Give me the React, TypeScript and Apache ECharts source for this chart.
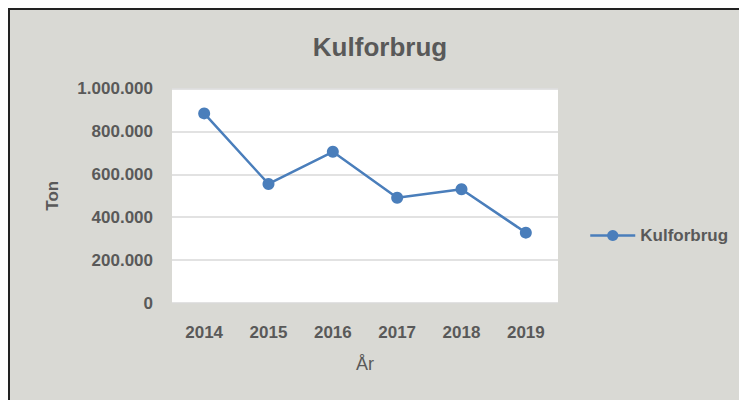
import React, { useEffect, useRef } from "react";
import * as echarts from "echarts";

const title = "Kulforbrug";
const years = ["2014", "2015", "2016", "2017", "2018", "2019"];
const kulforbrug = [884000, 555000, 705000, 491000, 530000, 328000];
const yMin = 0;
const yMax = 1000000;
const yStep = 200000;
const xName = "År";
const yName = "Ton";

const fmt = (v: number) => String(Math.round(v)).replace(/\B(?=(\d{3})+(?!\d))/g, ".");

export default function App() {
  const ref = useRef<HTMLDivElement>(null);
  useEffect(() => {
    if (!ref.current) return;
    const chart = echarts.init(ref.current, undefined, { renderer: "svg" });
    const font = "'Liberation Sans', Arial, sans-serif";
    chart.setOption({
      animation: false,
      backgroundColor: "#d9d9d4",
      textStyle: { fontFamily: font },
      title: {
        text: title,
        left: "center",
        top: 19,
        textStyle: { color: "#595959", fontSize: 26, fontWeight: "bold", fontFamily: font },
      },
      legend: {
        left: 574,
        top: 212,
        itemWidth: 45,
        itemHeight: 14,
        itemGap: 10,
        itemStyle: { color: "#4a7ebb" },
        lineStyle: { color: "#4a7ebb", width: 2.5 },
        textStyle: { color: "#595959", fontSize: 17, fontWeight: "bold", fontFamily: font },
        data: [title],
      },
      grid: {
        left: 162,
        top: 78.5,
        width: 386,
        height: 214.5,
        show: true,
        backgroundColor: "#ffffff",
        borderWidth: 0,
      },
      xAxis: {
        type: "category",
        data: years,
        boundaryGap: true,
        name: xName,
        nameLocation: "middle",
        nameGap: 52,
        nameTextStyle: { color: "#595959", fontSize: 18, fontFamily: font },
        axisLine: { show: false },
        axisTick: { show: false },
        axisLabel: { color: "#595959", fontSize: 17, fontWeight: "bold", margin: 21, fontFamily: font },
      },
      yAxis: {
        type: "value",
        min: yMin,
        max: yMax,
        interval: yStep,
        name: yName,
        nameLocation: "middle",
        nameGap: 111,
        nameTextStyle: { color: "#595959", fontSize: 17, fontWeight: "bold", fontFamily: font },
        axisLine: { show: false },
        axisTick: { show: false },
        axisLabel: {
          color: "#595959",
          fontSize: 17,
          fontWeight: "bold",
          margin: 19,
          fontFamily: font,
          formatter: (v: number) => fmt(v),
        },
        splitLine: { lineStyle: { color: "#d9d9d9", width: 1.5 } },
      },
      series: [
        {
          name: title,
          type: "line",
          data: kulforbrug,
          symbol: "circle",
          symbolSize: 12,
          lineStyle: { color: "#4a7ebb", width: 2.5 },
          itemStyle: { color: "#4a7ebb" },
        },
      ],
    });
    return () => chart.dispose();
  }, []);
  return (
    <div
      style={{
        position: "fixed",
        left: 8,
        top: 8,
        width: 740,
        height: 400,
        border: "2px solid #222",
        background: "#d9d9d4",
      }}
    >
      <div ref={ref} style={{ width: 740, height: 400 }} />
    </div>
  );
}
